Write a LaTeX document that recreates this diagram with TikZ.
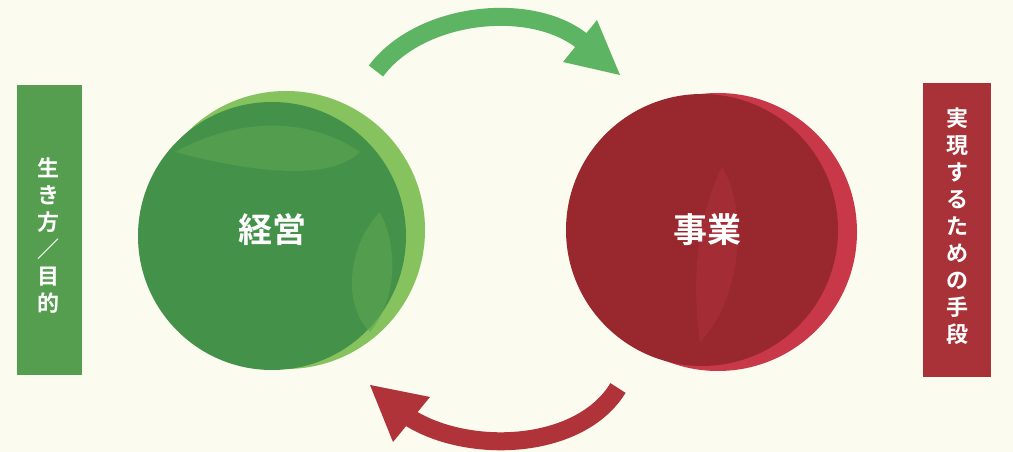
\documentclass[tikz,border=0pt]{standalone}
\usepackage{fontspec}
\newfontfamily\jpfont{Noto Sans CJK JP}
\newfontfamily\jpbold{Noto Sans CJK JP Bold}
\definecolor{bg}{HTML}{FBFBF0}
\definecolor{gbar}{HTML}{559E4F}
\definecolor{gdark}{HTML}{44914A}
\definecolor{glight}{HTML}{86C25E}
\definecolor{garrow}{HTML}{5DB563}
\definecolor{rbar}{HTML}{A83238}
\definecolor{rdark}{HTML}{98282E}
\definecolor{rlight}{HTML}{C83848}
\definecolor{rarrow}{HTML}{B0333A}
\tikzset{
  barlabel/.style={text=white,align=center,font=\jpbold\fontsize{22}{27}\selectfont},
  circlabel/.style={text=white,font=\jpbold\fontsize{34}{38}\selectfont},
  shaft/.style={line width=18pt,line cap=butt},
}
\begin{document}
\begin{tikzpicture}[x=1pt,y=1pt]
\fill[bg] (0,0) rectangle (1013,452);
\useasboundingbox (0,0) rectangle (1013,452);
% bars
\fill[gbar] (17,77) rectangle (82,367);
\node[barlabel] (ikikata) at (48,216) {生\\き\\方\\／\\目\\的};
\fill[rbar] (923,75) rectangle (991,369);
\node[barlabel] (jitsugen) at (957,226) {実\\現\\す\\る\\た\\め\\の\\手\\段};
% green circle
\fill[glight] (286,222) circle (139);
\fill[gdark] (272,216) circle (134);
\fill[glight!40!gdark,opacity=0.6] (175,300) .. controls (230,330) and (300,340) .. (360,300) .. controls (330,270) and (250,280) .. (175,300) -- cycle;
\fill[glight!40!gdark,opacity=0.6] (380,240) .. controls (400,200) and (395,150) .. (370,120) .. controls (340,150) and (350,210) .. (380,240) -- cycle;
\node[circlabel] (keiei) at (272,222) {経営};
% red circle
\fill[rlight] (718,220) circle (139);
\fill[rdark] (702,222) circle (136);
\fill[rlight!50!rdark,opacity=0.5] (722,285) .. controls (700,240) and (690,180) .. (700,110) .. controls (740,150) and (750,240) .. (722,285) -- cycle;
\node[circlabel] (jigyou) at (707,222) {事業};
% top arrow
\coordinate (ta) at (376,381);
\coordinate (tb) at (582,411);
\draw[shaft,garrow] (ta) .. controls (420,440) and (530,452) .. (tb);
\fill[garrow] (597,432) -- (620,377) -- (563,390) -- cycle;
% bottom arrow
\coordinate (ba) at (618,64);
\coordinate (bb) at (410,34);
\draw[shaft,rarrow] (ba) .. controls (580,2) and (470,-3) .. (bb);
\fill[rarrow] (370,67) -- (430,55) -- (393,10) -- cycle;
\end{tikzpicture}
\end{document}
